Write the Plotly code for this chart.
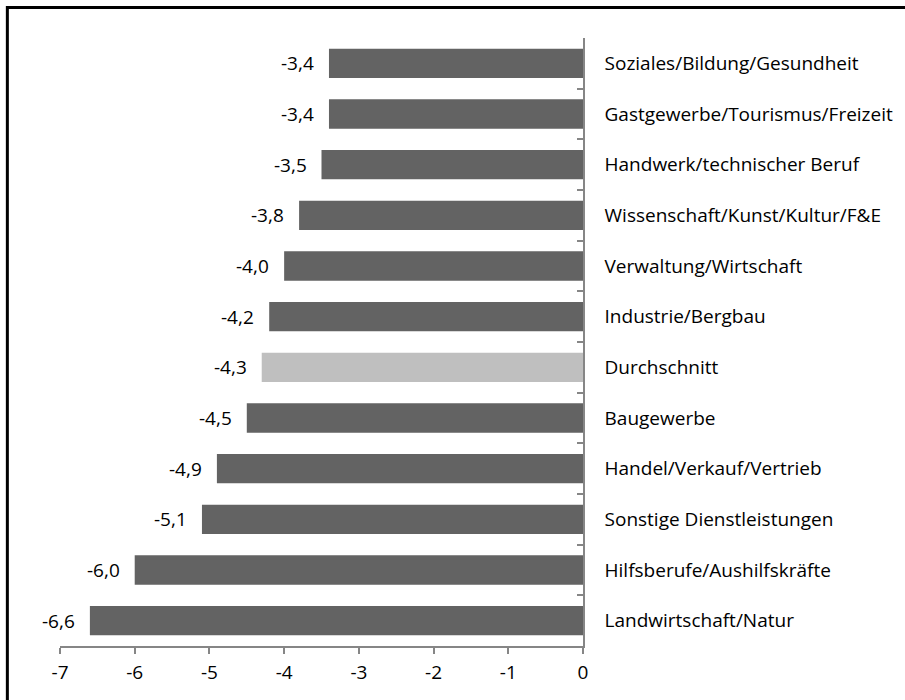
import plotly.graph_objects as go

# Berufsfelder, von oben nach unten
categories = [
    "Soziales/Bildung/Gesundheit",
    "Gastgewerbe/Tourismus/Freizeit",
    "Handwerk/technischer Beruf",
    "Wissenschaft/Kunst/Kultur/F&E",
    "Verwaltung/Wirtschaft",
    "Industrie/Bergbau",
    "Durchschnitt",
    "Baugewerbe",
    "Handel/Verkauf/Vertrieb",
    "Sonstige Dienstleistungen",
    "Hilfsberufe/Aushilfskräfte",
    "Landwirtschaft/Natur",
]
values = [-3.4, -3.4, -3.5, -3.8, -4.0, -4.2, -4.3, -4.5, -4.9, -5.1, -6.0, -6.6]
x_ticks = [-7, -6, -5, -4, -3, -2, -1, 0]
x_tick_labels = ["-7", "-6", "-5", "-4", "-3", "-2", "-1", "0"]

DARK = "#636363"
LIGHT = "#bfbfbf"
AXIS = "#868686"
FONT = "Open Sans"
FS = 19

W, H = 905, 700
ML, MR, MT, MB = 59.5, 319, 38, 54

colors = [LIGHT if c == "Durchschnitt" else DARK for c in categories]

fig = go.Figure(
    go.Bar(
        x=values,
        y=categories,
        orientation="h",
        marker=dict(color=colors, line=dict(width=0)),
        hoverinfo="skip",
    )
)

# value labels left of each bar, German decimal comma
for c, v in zip(categories, values):
    fig.add_annotation(
        x=v, y=c, xref="x", yref="y",
        text=f"{v:.1f}".replace(".", ","),
        showarrow=False, xanchor="right", yanchor="middle",
        xshift=-13, font=dict(family=FONT, size=FS, color="#000000"),
    )

# outer chart frame
pw = W - ML - MR
ph = H - MT - MB
fig.add_shape(
    type="rect", xref="paper", yref="paper",
    x0=(6.5 - ML) / pw, x1=(W + 20 - ML) / pw,
    y0=-(H + 20 - MT - ph) / ph, y1=1 + (MT - 7.5) / ph,
    line=dict(color="#000000", width=3), fillcolor="rgba(0,0,0,0)",
    layer="above",
)

fig.update_layout(
    width=W, height=H,
    margin=dict(l=ML, r=MR, t=MT, b=MB, pad=0),
    paper_bgcolor="white", plot_bgcolor="white",
    showlegend=False,
    bargap=0.42,
    font=dict(family=FONT, size=FS, color="#000000"),
    xaxis=dict(
        range=[-7, 0],
        tickvals=x_ticks, ticktext=x_tick_labels,
        showgrid=False, zeroline=False,
        showline=True, linecolor=AXIS, linewidth=1.5,
        ticks="outside", ticklen=6, tickcolor=AXIS, tickwidth=1.5,
        ticklabelstandoff=2,
        tickfont=dict(family=FONT, size=FS, color="#000000"),
        fixedrange=True,
    ),
    yaxis=dict(
        categoryorder="array", categoryarray=categories,
        autorange="reversed",
        side="right",
        showgrid=False, zeroline=False,
        showline=True, linecolor=AXIS, linewidth=1.5,
        ticks="inside", ticklen=6, tickcolor=AXIS, tickwidth=1.5,
        tickson="boundaries",
        ticklabelstandoff=16,
        tickfont=dict(family=FONT, size=FS, color="#000000"),
        fixedrange=True,
    ),
)

fig.write_html("out.html")
